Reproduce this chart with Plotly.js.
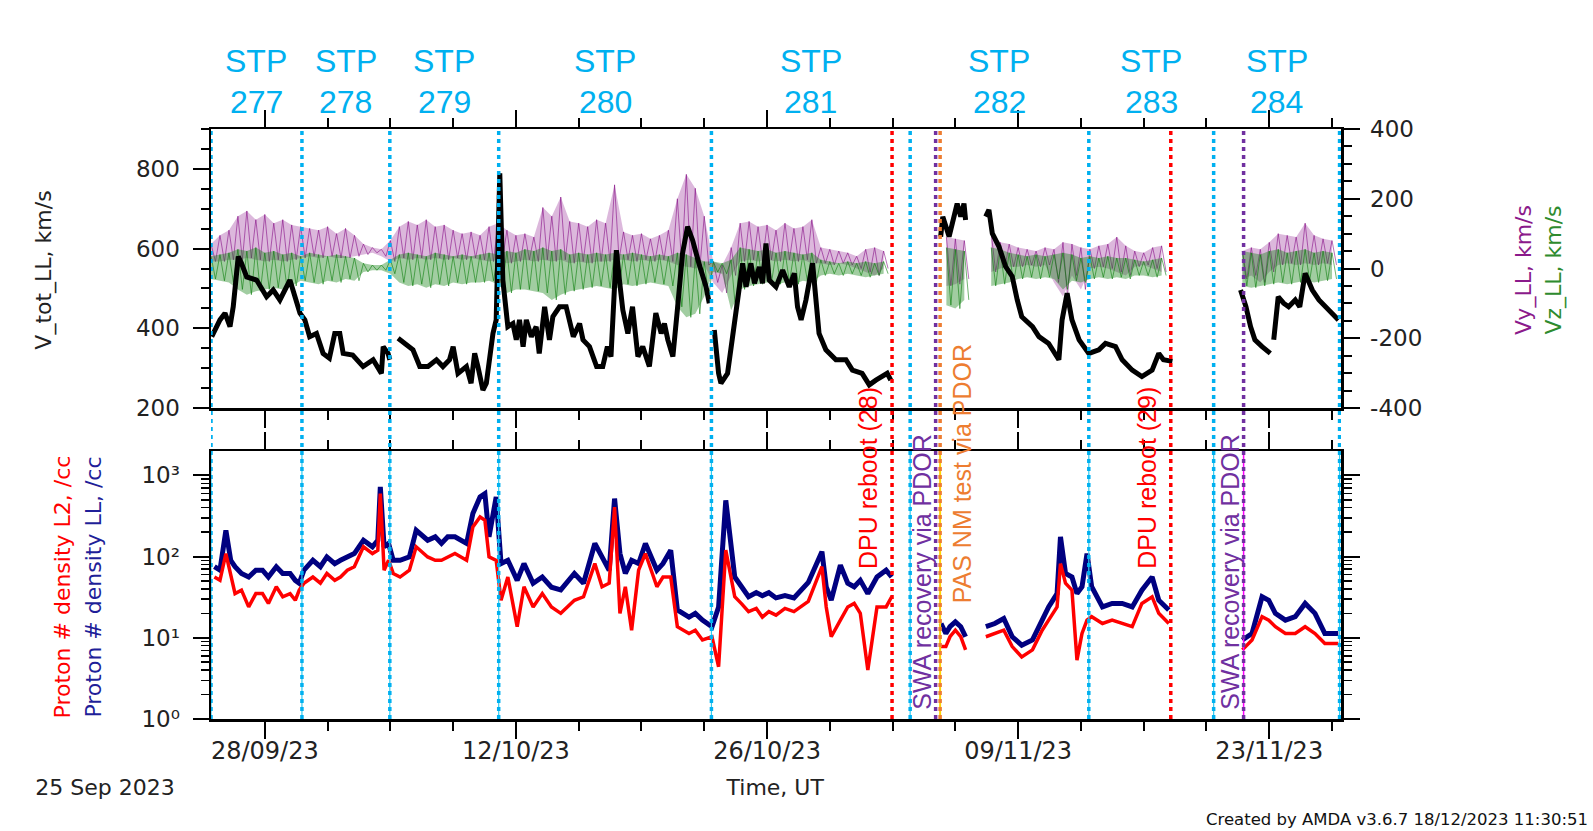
<!DOCTYPE html>
<html><head><meta charset="utf-8">
<script src="https://cdn.plot.ly/plotly-3.0.1.min.js"></script>
<style>html,body{margin:0;padding:0;background:#fff;} #chart{width:1593px;height:831px;}</style>
</head><body><div id="chart"></div>
<script>
// ---- time base: days since 2023-09-25 00:00 UT ----
const START_DATE = '2023-09-25';
const END_DAYS = 63;

// STP periods (boundaries in days since start) and numbers
const stpBounds = [0, 5.07, 9.97, 16.04, 27.9, 38.98, 48.94, 55.9, 62.92];
const stpNums = ['277', '278', '279', '280', '281', '282', '283', '284'];

// events (days since start)
const dpuReboots = [37.97, 53.51];
const dpuLabels = ['DPU reboot (28)', 'DPU reboot (29)'];
const swaRecoveries = [40.4, 57.57];
const swaLabels = ['SWA recovery via PDOR', 'SWA recovery via PDOR'];
const pasTests = [40.65];
const pasLabels = ['PAS NM test via PDOR'];

// V_tot_LL (km/s)
const tTot = [0.04,0.5,0.78,1.06,1.24,1.52,1.7,1.99,2.54,3.1,3.47,3.84,4.4,4.77,4.96,5.23,5.5,5.88,6.25,6.6,6.9,7.18,7.37,7.9,8.48,9.04,9.5,9.6,9.87,9.97,10.2,10.43,10.7,11.26,11.64,12.1,12.57,12.93,13.3,13.5,13.77,14.24,14.5,14.7,14.88,15.16,15.35,15.72,15.9,16.1,16.27,16.55,16.83,17.02,17.2,17.4,17.58,17.86,18.13,18.3,18.6,18.87,19.06,19.43,19.8,19.99,20.2,20.55,20.74,21.1,21.5,21.84,22.1,22.3,22.6,22.77,22.96,23.24,23.5,23.8,24.07,24.44,24.8,25.1,25.28,25.47,25.75,26.0,26.29,26.57,26.85,27.2,27.6,27.78,27.9,28.06,28.3,28.43,28.8,29.08,29.36,29.64,29.83,30.1,30.3,30.57,30.75,30.94,31.12,31.5,31.87,32.24,32.52,32.7,32.9,33.17,33.54,33.72,33.9,34.28,34.84,35.4,35.76,36.3,36.7,37.07,37.43,37.7,37.9,39.0,40.68,40.8,41.15,41.4,41.6,41.8,41.98,42.07,42.6,43.19,43.37,43.56,43.93,44.3,44.67,44.95,45.2,45.8,46.16,46.7,47.27,47.45,47.73,48.0,48.4,48.94,49.5,49.87,50.43,50.8,51.36,51.9,52.47,52.84,53.1,53.6,55.0,57.4,57.7,57.96,58.2,58.6,59.06,59.15,59.25,59.5,59.8,60.08,60.45,60.7,61.0,61.4,61.77,62.3,62.7,62.86];
const vTot = [379,421,438,404,454,580,563,529,521,479,496,471,521,471,438,421,379,387,337,325,387,387,337,333,304,321,287,354,337,321,null,375,366,346,304,304,321,304,321,354,287,304,262,337,304,245,262,387,421,789,521,404,412,371,421,354,421,379,404,337,454,371,429,454,454,421,379,412,371,354,304,304,354,329,596,521,446,387,454,329,354,304,438,387,412,371,329,446,588,655,621,563,504,463,null,396,287,262,287,379,479,563,504,563,513,554,513,613,521,504,546,504,538,454,421,471,563,488,387,346,321,321,295,287,258,270,279,287,270,null,630,680,630,672,713,680,713,672,null,680,697,638,605,555,530,471,429,404,379,362,321,421,488,421,371,337,346,362,354,321,295,279,295,337,321,317,null,496,454,404,371,354,337,null,371,479,463,454,471,454,538,496,471,446,429,421];

// Vy_LL / Vz_LL spread (km/s), sampled every half day from the start
const sampleStepDays = 0.5;
const vyHi = [70,95,110,150,165,140,155,130,140,125,120,115,110,120,100,115,95,70,60,55,80,120,135,125,140,120,125,110,100,105,95,120,130,110,95,100,90,175,150,205,135,130,120,140,130,240,105,95,100,85,95,110,200,270,230,150,20,10,60,130,135,120,125,110,130,115,120,140,60,55,50,45,35,55,60,50,null,null,null,null,null,null,90,85,80,null,null,100,75,70,60,55,50,60,55,75,70,60,55,65,70,90,65,50,45,60,65,null,null,null,null,null,null,null,null,50,60,55,75,100,95,90,130,95,85,80];
const vyLo = [20,20,25,25,30,25,20,25,20,25,30,35,30,35,30,30,35,40,45,35,20,30,25,30,25,30,25,30,25,30,25,20,25,15,20,25,20,25,20,25,15,20,15,20,20,25,25,20,25,20,25,20,10,5,0,10,-40,-70,-20,20,25,20,25,20,25,20,25,15,15,10,15,10,0,-10,-20,0,null,null,null,null,null,null,-50,-45,-30,null,null,-10,0,5,5,10,5,10,-40,-80,-20,-60,0,5,0,-10,-20,5,10,0,-10,null,null,null,null,null,null,null,null,-30,-20,-40,-10,10,15,10,15,10,15,10];
const vzHi = [35,40,45,55,50,60,45,50,40,45,35,45,40,35,40,35,30,15,10,10,25,40,45,40,35,45,40,35,40,35,40,45,40,50,45,55,50,60,50,55,40,45,40,45,40,45,40,45,40,35,40,35,45,40,30,20,20,15,25,60,55,50,55,45,50,45,40,45,25,20,15,20,15,20,15,20,null,null,null,null,null,null,60,55,50,null,null,60,55,45,40,35,40,35,40,45,40,30,35,30,35,30,30,25,20,25,30,null,null,null,null,null,null,null,null,50,45,40,50,55,45,50,55,45,50,45];
const vzLo = [-30,-35,-40,-60,-75,-65,-60,-55,-60,-50,-35,-40,-45,-35,-40,-30,-35,-10,-5,-5,-15,-40,-50,-45,-55,-45,-50,-40,-45,-40,-40,-35,-45,-70,-60,-60,-65,-70,-90,-75,-65,-60,-55,-50,-55,-60,-45,-50,-45,-40,-45,-50,-110,-140,-130,-80,-10,-15,-120,-60,-50,-45,-40,-45,-40,-45,-35,-40,-20,-15,-20,-15,-20,-25,-20,-15,null,null,null,null,null,null,-105,-115,-90,null,null,-50,-45,-40,-30,-25,-30,-25,-30,-60,-35,-40,-30,-25,-30,-25,-30,-20,-20,-25,-20,null,null,null,null,null,null,null,null,-50,-55,-50,-45,-40,-45,-40,-35,-40,-35,-30];

// Proton densities (/cc)
const tDen = [0.19,0.5,0.83,1.1,1.34,1.7,2.1,2.5,2.87,3.2,3.64,4.0,4.41,4.7,4.92,5.18,5.68,6.1,6.46,6.9,7.22,7.6,7.99,8.5,9.0,9.3,9.44,9.65,9.9,10.16,10.54,11.06,11.44,12.08,12.5,12.85,13.2,13.6,14.25,14.6,15.0,15.27,15.5,15.9,16.17,16.55,17.07,17.45,17.96,18.47,18.98,19.5,20.26,20.77,21.4,21.8,22.2,22.5,22.8,23.1,23.45,23.84,24.22,24.86,25.2,25.63,26.0,26.65,27.0,27.4,27.93,28.3,28.7,29.2,29.6,29.97,30.4,30.74,31.1,31.5,32.0,32.5,33.3,34.06,34.3,34.58,35.09,35.5,35.86,36.2,36.62,37.13,37.64,37.95,39.0,40.7,40.97,41.2,41.5,41.8,42.07,42.6,43.2,43.7,44.2,44.67,45.2,45.8,46.34,46.7,47.17,47.36,47.64,48.0,48.28,48.56,48.84,49.1,49.7,50.24,50.8,51.36,51.9,52.47,52.84,53.4,55.0,57.5,58.04,58.6,58.97,59.34,59.9,60.45,61.0,61.55,62.1,62.85];
const nLL = [75,68,210,90,75,62,56,68,68,56,75,62,62,51,47,68,90,75,99,82,90,99,109,159,132,159,720,132,145,90,90,99,211,159,175,145,175,175,145,339,543,596,175,543,82,90,51,82,47,56,42,39,62,47,145,99,68,518,109,62,90,82,145,68,82,120,22,18,20,16.5,13.7,24,493,56,42,32,36,33,36,31,33,31,48,115,42.5,29,78.5,47,42.5,51,35,56,68,56,null,15,11.3,13.7,15.7,13.7,10.3,null,13.7,15,17.3,10.3,8.1,9.4,16.5,24,35,175,62,56,35,42.5,109,42.5,24,26.5,26.5,24,38.6,56,29,22,null,9.4,11.3,32,29,20,16.5,18.2,26.5,20,11.3,11.3];
const nL2 = [56,51,109,56,35,38.6,24,35,35,26.5,42.5,32,35,29,38.6,47,56,47,62,51,56,68,75,132,109,120,596,68,90,62,56,68,132,99,90,90,99,109,90,232,308,280,99,90,29,56,13.7,42.5,24,35,24,20,29,32,82,42.5,47,407,20,42.5,12.4,68,109,42.5,56,56,13.7,11.3,12.4,9.4,10.3,4.4,120,32,26,21,23,18,21,19,23,21,28,75,24,10.3,16.5,24,26.5,20,4.0,24,24,32,null,7.8,7.8,10.3,12.4,10.3,7.1,null,10.3,11.3,12.4,7.8,5.8,7.1,12.4,16.5,24,82,47,38.6,5.3,11.3,16.5,18.2,15,16.5,15,13.7,26.5,32,20,15,null,7.1,9.4,18.2,16.5,13.7,11.3,11.3,13.7,11.3,8.5,8.5];

// tick values / labels
const leftTickVals = [200, 400, 600, 800];
const rightTickVals = [-400, -200, 0, 200, 400];
const rightTickText = ['-400', '-200', '0', '200', '400'];
const logTickVals = [1, 10, 100, 1000];
const logTickText = ['10\u2070', '10\u00B9', '10\u00B2', '10\u00B3'];
const logMinorVals = [2,3,4,5,6,7,8,9,20,30,40,50,60,70,80,90,200,300,400,500,600,700,800,900,2000];

// ---- helpers ----
const DAY = 86400000;
const T0 = Date.parse(START_DATE + 'T00:00:00Z');
const toMs = d => T0 + d * DAY;

function zigzag(hi, lo) {
  const x = [], y = [];
  for (let i = 0; i < hi.length; i++) {
    const d = i * sampleStepDays;
    if (hi[i] === null) { x.push(toMs(d)); y.push(null); continue; }
    x.push(toMs(d)); y.push(hi[i]);
    x.push(toMs(d + sampleStepDays / 2)); y.push(lo[i]);
  }
  return {x, y};
}
// filled spread band, one polygon per contiguous run of samples
function bands(hi, lo, fillcolor) {
  const out = [];
  let seg = [];
  const flush = () => {
    if (seg.length > 1) {
      const xs = seg.map(i => toMs(i * sampleStepDays));
      const x = xs.concat(xs.slice().reverse());
      const y = seg.map(i => hi[i]).concat(seg.slice().reverse().map(i => lo[i]));
      out.push({x, y, xaxis: 'x', yaxis: 'y2', type: 'scatter', mode: 'lines', fill: 'toself',
        fillcolor: fillcolor, line: {width: 0, color: fillcolor}, showlegend: false, hoverinfo: 'skip'});
    }
    seg = [];
  };
  for (let i = 0; i < hi.length; i++) { if (hi[i] === null) flush(); else seg.push(i); }
  flush();
  return out;
}

const CYAN = '#00B0F0', RED = '#FF0000', PURPLE = '#7030A0', ORANGE = '#ED7D31';
const FONT = 'DejaVu Sans, sans-serif';
const AFONT = 'Liberation Sans, Arial, sans-serif';

const vy = zigzag(vyHi, vyLo);
const vz = zigzag(vzHi, vzLo);

const traces = [].concat(
  [{x: [], y: [], xaxis: 'x', yaxis: 'y', type: 'scatter', mode: 'lines', showlegend: false, hoverinfo: 'skip'}],
  bands(vyHi, vyLo, 'rgba(140,20,140,0.3)'),
  [{x: vy.x, y: vy.y, xaxis: 'x', yaxis: 'y2', type: 'scatter', mode: 'lines',
    line: {color: 'rgba(128,0,128,0.7)', width: 0.8}, connectgaps: false, showlegend: false}],
  bands(vzHi, vzLo, 'rgba(20,130,20,0.4)'),
  [{x: vz.x, y: vz.y, xaxis: 'x', yaxis: 'y2', type: 'scatter', mode: 'lines',
    line: {color: 'rgba(0,120,0,0.7)', width: 0.8}, connectgaps: false, showlegend: false},
   {x: tTot.map(toMs), y: vTot, xaxis: 'x', yaxis: 'y4', type: 'scatter', mode: 'lines',
    line: {color: '#000', width: 5}, connectgaps: false, showlegend: false},
   {x: tDen.map(toMs), y: nLL, xaxis: 'x2', yaxis: 'y3', type: 'scatter', mode: 'lines',
    line: {color: '#000080', width: 5}, connectgaps: false, showlegend: false},
   {x: tDen.map(toMs), y: nL2, xaxis: 'x2', yaxis: 'y3', type: 'scatter', mode: 'lines',
    line: {color: '#FF0000', width: 3.5}, connectgaps: false, showlegend: false}]
);

// ---- shapes ----
const shapes = [];
function vline(d, color, dashed, yref, width) {
  shapes.push({type: 'line', xref: 'x', yref: yref, x0: toMs(d), x1: toMs(d), y0: 0, y1: 1,
    line: {color: color, width: width, dash: dashed ? '4px,4px' : 'solid'}, layer: 'above'});
}
stpBounds.forEach(d => vline(d, '#33CCEE', false, 'y3 domain', 1.2));
pasTests.forEach(d => vline(d, '#FFD400', false, 'y3 domain', 2));
vline(swaRecoveries[1], '#FF00FF', false, 'y3 domain', 1.5);
stpBounds.forEach(d => vline(d, CYAN, true, 'paper', 3.5));
dpuReboots.forEach(d => vline(d, RED, true, 'paper', 3.5));
swaRecoveries.forEach(d => vline(d, PURPLE, true, 'paper', 3.5));
pasTests.forEach(d => vline(d, ORANGE, true, 'paper', 3.5));

// ---- annotations ----
const ann = [];
for (let i = 0; i < stpNums.length; i++) {
  const mid = (stpBounds[i] + stpBounds[i + 1]) / 2;
  ann.push({xref: 'x', yref: 'paper', x: toMs(mid), y: 1.1153, xanchor: 'center', yanchor: 'middle',
    text: 'STP', showarrow: false, font: {family: AFONT, size: 32, color: CYAN}});
  ann.push({xref: 'x', yref: 'paper', x: toMs(mid), y: 1.0458, xanchor: 'center', yanchor: 'middle',
    text: stpNums[i], showarrow: false, font: {family: AFONT, size: 32, color: CYAN}});
}
dpuReboots.forEach((d, i) => ann.push({xref: 'x', yref: 'paper', x: toMs(d), xshift: -24, y: 0.4085,
  text: dpuLabels[i], textangle: -90, showarrow: false, xanchor: 'center', yanchor: 'middle',
  font: {family: AFONT, size: 25, color: RED}}));
swaRecoveries.forEach((d, i) => ann.push({xref: 'x', yref: 'paper', x: toMs(d), xshift: -14, y: 0.249,
  text: swaLabels[i], textangle: -90, showarrow: false, xanchor: 'center', yanchor: 'middle',
  font: {family: AFONT, size: 25, color: PURPLE}}));
pasTests.forEach((d, i) => ann.push({xref: 'x', yref: 'paper', x: toMs(d), xshift: 22, y: 0.415,
  text: pasLabels[i], textangle: -90, showarrow: false, xanchor: 'center', yanchor: 'middle',
  font: {family: AFONT, size: 25, color: ORANGE}}));

function label(text, x, y, color, size, angle, w) {
  ann.push({xref: 'paper', yref: 'paper', x: x, y: y, text: text, showarrow: false,
    xanchor: 'center', yanchor: 'middle', textangle: angle || 0, width: w, height: Math.round(size * 1.35),
    font: {family: FONT, size: size, color: color}});
}
label('V_tot_LL, km/s', -0.1478, 0.761, '#222', 22, -90, 190);
label('Proton # density L2, /cc', -0.131, 0.2237, '#FF0000', 22, -90, 300);
label('Proton # density LL, /cc', -0.1044, 0.2237, '#1F1F99', 22, -90, 300);
label('Vy_LL, km/s', 1.162, 0.761, '#8B1A8B', 22, -90, 150);
label('Vz_LL, km/s', 1.1885, 0.761, '#2E8B2E', 22, -90, 150);
label('Time, UT', 0.499, -0.1153, '#222', 22, 0, 110);
label('25 Sep 2023', -0.0938, -0.1153, '#222', 22, 0, 150);
label('Created by AMDA v3.6.7 18/12/2023 11:30:51', 1.0496, -0.1695, '#111', 16.5, 0, 400);

// ---- axes ----
const xBase = {
  type: 'date', range: [toMs(0), toMs(END_DAYS)], showline: true, linecolor: '#000', linewidth: 2.5,
  mirror: 'ticks', ticks: 'outside', ticklen: 17, tickwidth: 2, tickcolor: '#000',
  tick0: '2023-09-28', dtick: 14 * DAY, showgrid: false, zeroline: false,
  minor: {ticks: 'outside', ticklen: 9, tickwidth: 2, tickcolor: '#000', tick0: '2023-09-28', dtick: 3.5 * DAY, showgrid: false}
};
const yTick = {family: FONT, size: 23, color: '#222'};

const layout = {
  width: 1593, height: 831,
  margin: {l: 211, r: 252, t: 129, b: 112},
  paper_bgcolor: '#fff', plot_bgcolor: '#fff',
  showlegend: false,
  xaxis: Object.assign({}, xBase, {domain: [0, 1], anchor: 'y', showticklabels: false}),
  xaxis2: Object.assign({}, xBase, {domain: [0, 1], anchor: 'y3', matches: 'x', showticklabels: true,
    tickformat: '%d/%m/%y', tickfont: {family: FONT, size: 24, color: '#222'}, ticklabelstandoff: -8}),
  yaxis: {domain: [0.5271, 1], anchor: 'x', range: [200, 900], tickmode: 'array', tickvals: leftTickVals,
    showline: true, linecolor: '#000', linewidth: 2.5, ticks: 'outside', ticklen: 16, tickwidth: 2,
    tickcolor: '#000', tickfont: yTick, ticklabelstandoff: 8, showgrid: false, zeroline: false,
    minor: {ticks: 'outside', ticklen: 8, tickwidth: 2, tickcolor: '#000', dtick: 50, tick0: 200}},
  yaxis2: {overlaying: 'y', side: 'right', anchor: 'x', range: [-400, 400], tickmode: 'array',
    tickvals: rightTickVals, ticktext: rightTickText,
    showline: true, linecolor: '#000', linewidth: 2.5, ticks: 'outside', ticklen: 16, tickwidth: 2,
    tickcolor: '#000', tickfont: yTick, ticklabelstandoff: 6, showgrid: false, zeroline: false,
    minor: {ticks: 'outside', ticklen: 8, tickwidth: 2, tickcolor: '#000', dtick: 50, tick0: 0}},
  yaxis4: {overlaying: 'y', anchor: 'x', range: [200, 900], visible: false, showgrid: false, zeroline: false},
  yaxis3: {domain: [0, 0.4542], anchor: 'x2', type: 'log', range: [0, 3.3],
    tickvals: logTickVals, ticktext: logTickText, tickmode: 'array',
    showline: true, linecolor: '#000', linewidth: 2.5, mirror: 'ticks', ticks: 'outside', ticklen: 16, tickwidth: 2,
    tickcolor: '#000', tickfont: yTick, ticklabelstandoff: 8, showgrid: false, zeroline: false,
    minor: {ticks: 'outside', ticklen: 8, tickwidth: 1.5, tickcolor: '#000', tickvals: logMinorVals, showgrid: false}},
  shapes: shapes,
  annotations: ann
};

Plotly.newPlot('chart', traces, layout, {staticPlot: true, displayModeBar: false});
</script></body></html>
